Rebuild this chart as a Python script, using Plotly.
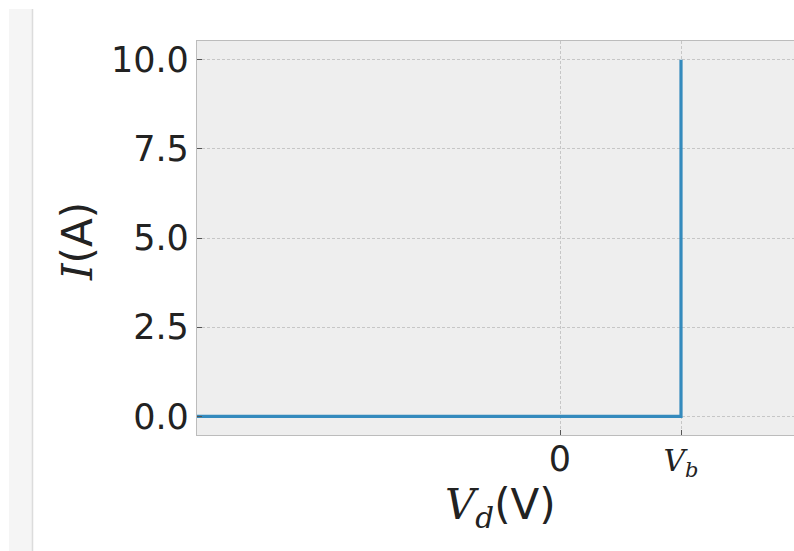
import plotly.graph_objects as go

# Data
VD = [-3.0, 1.0, 1.0]      # diode voltage (V_b = 1 in plot units)
I_A = [0.0, 0.0, 10.0]     # current (A)
x_tickvals = [0.0, 1.0]
x_ticktext = ["0", "<span style='font-family:DejaVu Serif;font-size:30px'><i>V</i><sub><i>b</i></sub></span>"]
y_tickvals = [0.0, 2.5, 5.0, 7.5, 10.0]
y_ticktext = ["0.0", "2.5", "5.0", "7.5", "10.0"]

W, H = 794, 551
L, R, T, B = 197, 0, 41, 116
pw, ph = W - L - R, H - T - B

def px(xp):
    return (xp - L) / pw

def py(yp):
    return (H - B - yp) / ph

fig = go.Figure()
fig.add_trace(go.Scatter(x=VD, y=I_A, mode="lines",
                         line=dict(color="#348ABD", width=3.2),
                         showlegend=False, hoverinfo="skip"))

grid = dict(showgrid=True, gridcolor="#c6c6c6", gridwidth=0.8, griddash="3px,2px",
            zeroline=False, ticks="inside", ticklen=5, tickcolor="#555555",
            tickfont=dict(family="DejaVu Sans", size=35, color="#222222"),
            showline=True, linecolor="#bcbcbc", linewidth=1.2)

fig.update_layout(
    width=W, height=H,
    margin=dict(l=L, r=R, t=T, b=B, pad=0),
    paper_bgcolor="white", plot_bgcolor="#eeeeee",
    xaxis=dict(range=[-3.0, (794 - 560) / 121.0], tickvals=x_tickvals, ticktext=x_ticktext,
               mirror=True, ticklabelstandoff=-7, **grid),
    yaxis=dict(range=[-0.525, 10.525], tickvals=y_tickvals, ticktext=y_ticktext,
               **grid),
    shapes=[
        dict(type="rect", xref="paper", yref="paper",
             x0=px(9), x1=px(32), y0=py(9), y1=py(551),
             fillcolor="#f5f5f5", line=dict(width=0), layer="below"),
        dict(type="line", xref="paper", yref="paper",
             x0=px(32.5), x1=px(32.5), y0=py(9), y1=py(551),
             line=dict(color="#dcdcdc", width=1.5)),
    ],
    annotations=[
        dict(text="<span style='font-family:DejaVu Serif'><i>V</i><sub><i>d</i></sub></span>(V)",
             xref="paper", yref="paper", x=px(500), y=py(507), showarrow=False,
             xanchor="center", yanchor="middle",
             font=dict(family="DejaVu Sans", size=42, color="#222222")),
        dict(text="<span style='font-family:DejaVu Serif'><i>I</i></span>(A)",
             xref="paper", yref="paper", x=px(77), y=py(242), showarrow=False,
             xanchor="center", yanchor="middle", textangle=-90,
             font=dict(family="DejaVu Sans", size=42, color="#222222")),
    ],
)

fig.write_html("out.html", config={"displayModeBar": False},
               post_script="document.body.style.margin='0';document.documentElement.style.overflow='hidden';")
